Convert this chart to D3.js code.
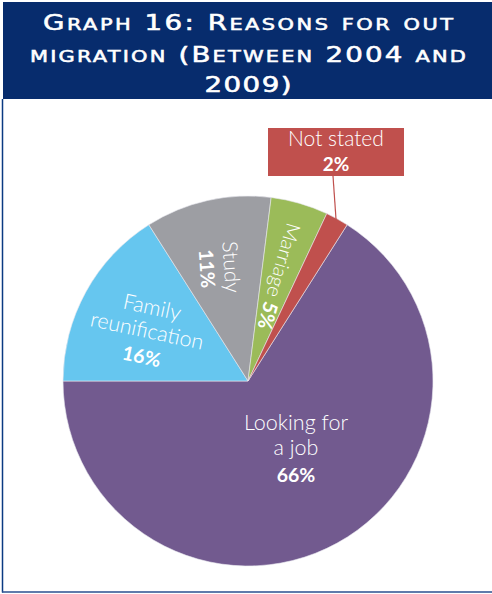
<!DOCTYPE html>
<html>
<head>
<meta charset="utf-8">
<script src="https://cdn.jsdelivr.net/npm/d3@7"></script>
<style>
  html, body { margin: 0; padding: 0; background: #fff; }
  svg { display: block; }
  .lbl { font-family: Lato, "Open Sans", sans-serif; font-weight: 300; fill: #fff; }
  .pct { font-family: Lato, "Open Sans", sans-serif; font-weight: 700; fill: #fff; }
  .title { font-family: "DejaVu Sans", sans-serif; font-weight: normal; fill: #fff; stroke: #fff; stroke-width: 0.55; }
</style>
</head>
<body>
<script>
// ---- data ----
const titleLines = ["Graph 16: Reasons for out", "migration (Between 2004 and", "2009)"];
const categories = ["Looking for a job", "Family reunification", "Study", "Marriage", "Not stated"];
const values = [66, 16, 11, 5, 2];
const colors = ["#725a8f", "#66c6ef", "#9d9ea3", "#9bbb59", "#c0504d"];

// ---- layout ----
const W = 492, H = 594;
const cx = 248, cy = 381, R = 185;
const startDeg = 32.4;

const svg = d3.select("body").append("svg").attr("width", W).attr("height", H);

// frame
svg.append("rect").attr("x", 3).attr("y", 2).attr("width", W - 3).attr("height", 97).attr("fill", "#072c6d");
svg.append("line").attr("x1", 2.5).attr("x2", 2.5).attr("y1", 99).attr("y2", 592.5)
  .attr("stroke", "#0b3a82").attr("stroke-width", 1.5);
svg.append("line").attr("x1", 2).attr("x2", W).attr("y1", 592).attr("y2", 592)
  .attr("stroke", "#2a4f8f").attr("stroke-width", 1.5);

// title with manual small caps, horizontally stretched
const sx = 1.35;
const titleSpecs = [{y: 30, w: 410}, {y: 62, w: 436}, {y: 92, w: 87}];
titleLines.forEach((t, i) => {
  const txt = svg.append("g").attr("transform", `translate(248,${titleSpecs[i].y}) scale(${sx},1)`)
    .append("text").attr("class", "title")
    .attr("x", 0).attr("y", 0)
    .attr("text-anchor", "middle")
    .attr("textLength", titleSpecs[i].w / sx)
    .attr("lengthAdjust", "spacing");
  const runs = [];
  for (const ch of t) {
    const small = ch !== ch.toUpperCase();
    if (runs.length && runs[runs.length - 1].small === small) runs[runs.length - 1].s += ch;
    else runs.push({small, s: ch});
  }
  runs.forEach(r => {
    txt.append("tspan").attr("font-size", r.small ? 15.5 : 20.5).text(r.s.toUpperCase());
  });
});

// pie
const data = categories.map((c, i) => ({cat: c, value: values[i], color: colors[i]}));
const a0 = startDeg * Math.PI / 180;
const pie = d3.pie().value(d => d.value).sort(null).startAngle(a0).endAngle(a0 + 2 * Math.PI);
const arc = d3.arc().innerRadius(0).outerRadius(R);
const arcs = pie(data);

const g = svg.append("g").attr("transform", `translate(${cx},${cy})`);
g.selectAll("path").data(arcs).enter().append("path")
  .attr("d", arc)
  .attr("fill", d => d.data.color)
  .attr("stroke", "#e8e8ee").attr("stroke-width", 0.6);

// labels
function block(x, y, rot, lines) {
  const gg = svg.append("g").attr("transform", `translate(${x},${y}) rotate(${rot})`);
  lines.forEach(l => {
    gg.append("text").attr("class", l.bold ? "pct" : "lbl")
      .attr("x", 0).attr("y", l.dy)
      .attr("text-anchor", "middle")
      .attr("font-size", l.size)
      .text(l.text);
  });
}
const pct = v => v + "%";

// Looking for a job
block(296, 430, 0, [
  {text: "Looking for", dy: 0, size: 21.5},
  {text: "a job", dy: 25, size: 21.5},
  {text: pct(values[0]), dy: 52, bold: true, size: 19.5}
]);
// Family reunification
block(147, 331, 12, [
  {text: "Family", dy: -17, size: 21.5},
  {text: "reunification", dy: 7, size: 21.5},
  {text: pct(values[1]), dy: 33, bold: true, size: 19.5}
]);
// Study
block(218, 268, 86, [
  {text: "Study", dy: -6, size: 21},
  {text: pct(values[2]), dy: 18, bold: true, size: 19.5}
]);
// Marriage
{
  const gg = svg.append("g").attr("transform", `translate(278,276) rotate(106)`);
  const t = gg.append("text").attr("text-anchor", "middle").attr("y", 6).attr("font-size", 20);
  t.append("tspan").attr("class", "lbl").text("Marriage ");
  t.append("tspan").attr("class", "pct").text(pct(values[3]));
}
// Not stated callout
svg.append("line").attr("x1", 333).attr("y1", 176).attr("x2", 336).attr("y2", 219)
  .attr("stroke", colors[4]).attr("stroke-width", 1.2);
svg.append("rect").attr("x", 268).attr("y", 128).attr("width", 136).attr("height", 48).attr("fill", colors[4]);
svg.append("text").attr("class", "lbl").attr("x", 336).attr("y", 146).attr("text-anchor", "middle")
  .attr("font-size", 21).text(categories[4]);
svg.append("text").attr("class", "pct").attr("x", 336).attr("y", 171).attr("text-anchor", "middle")
  .attr("font-size", 19).text(pct(values[4]));
</script>
</body>
</html>
